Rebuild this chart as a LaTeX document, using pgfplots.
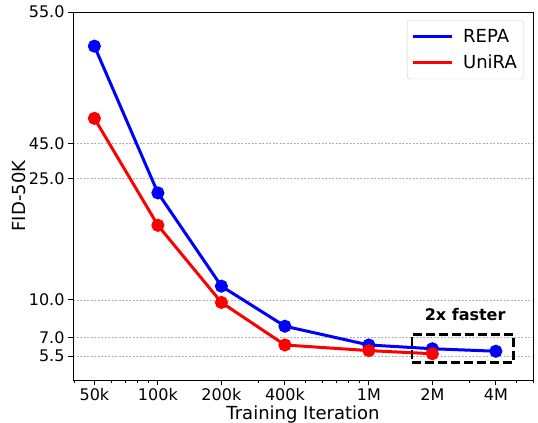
\documentclass[border=0pt]{standalone}
\usepackage{fontspec}
\setmainfont{DejaVu Sans}
\usepackage{pgfplots}
\pgfplotsset{compat=1.18}
\begin{document}
\begin{tikzpicture}
\begin{axis}[
  name=ax,
  scale only axis,
  width=460pt, height=368pt,
  xmode=log,
  xmin=39600, xmax=6.0e6,
  ymin=3.6, ymax=55,
  y coord trafo/.code={\pgfmathparse{12.51*(#1-3.6) - 4.4*max(#1-10,0) - 6.36*max(#1-25,0) + 11.38*max(#1-45,0)}},
  xtick={50000,100000,200000,400000,1000000,2000000,4000000},
  xticklabels={50k,100k,200k,400k,1M,2M,4M},
  minor xtick={40000,60000,70000,80000,90000,300000,500000,600000,700000,800000,900000,3000000,5000000,6000000},
  ytick={5.5,7,10,25,45,55},
  yticklabels={5.5,7.0,10.0,25.0,45.0,55.0},
  /pgf/number format/assume math mode=true,
  tick label style={font=\fontsize{16}{19}\selectfont},
  xticklabel style={anchor=base, yshift=-15pt},
  yticklabel style={anchor=east},
  tick align=outside,
  major tick length=5pt,
  minor tick length=3pt,
  xtick pos=bottom, ytick pos=left,
  axis line style={black, line width=0.9pt},
  every tick/.style={black, line width=0.9pt},
  every minor tick/.style={black, line width=0.6pt},
  ymajorgrids,
  major grid style={gray!60, line width=0.5pt, dash pattern=on 2pt off 1.5pt},
  label style={font=\fontsize{18}{21.6}\selectfont},
  xlabel={Training Iteration},
  ylabel={FID-50K},
  xlabel style={at={(axis description cs:0.5,0)}, anchor=base, yshift=-39pt},
  ylabel style={at={(axis description cs:-0.1185,0.5)}, anchor=center, rotate=0},
  legend style={at={(1,1)}, anchor=north east, xshift=-9pt, yshift=-8pt,
    draw=black!20, rounded corners=3pt, fill=white,
    font=\fontsize{18}{21.6}\selectfont, inner xsep=4pt, inner ysep=6pt,
    row sep=5pt, nodes={inner sep=3pt},
    /tikz/every odd column/.append style={column sep=7pt}},
  legend cell align=left,
  legend image code/.code={\draw[#1, line width=3pt] (0pt,0pt) -- (39pt,0pt);},
]
\addplot[blue, line width=3pt, mark=*, mark size=5pt, mark options={solid, fill=blue, draw=blue}]
  coordinates {(50000,52.4) (100000,23.2) (200000,11.7) (400000,7.9) (1000000,6.4) (2000000,6.1) (4000000,5.9)};
\addlegendentry{REPA}
\addplot[red, line width=3pt, mark=*, mark size=5pt, mark options={solid, fill=red, draw=red}]
  coordinates {(50000,46.9) (100000,19.2) (200000,9.8) (400000,6.4) (1000000,5.95) (2000000,5.7)};
\addlegendentry{UniRA}
\addplot[black, line width=2.5pt, dash pattern=on 9pt off 4pt, line join=miter, forget plot]
  coordinates {(1.6e6,5.0) (4.85e6,5.0) (4.85e6,7.25) (1.6e6,7.25)} -- cycle;
\node[font=\fontsize{16}{19}\selectfont\bfseries, anchor=base] at (axis cs:2.86e6,8.32) {2x faster};
\end{axis}
\pgfresetboundingbox
\path[use as bounding box] ([shift={(-73pt,-42pt)}]ax.south west) rectangle ([shift={(5pt,12pt)}]ax.north east);
\end{tikzpicture}
\end{document}
